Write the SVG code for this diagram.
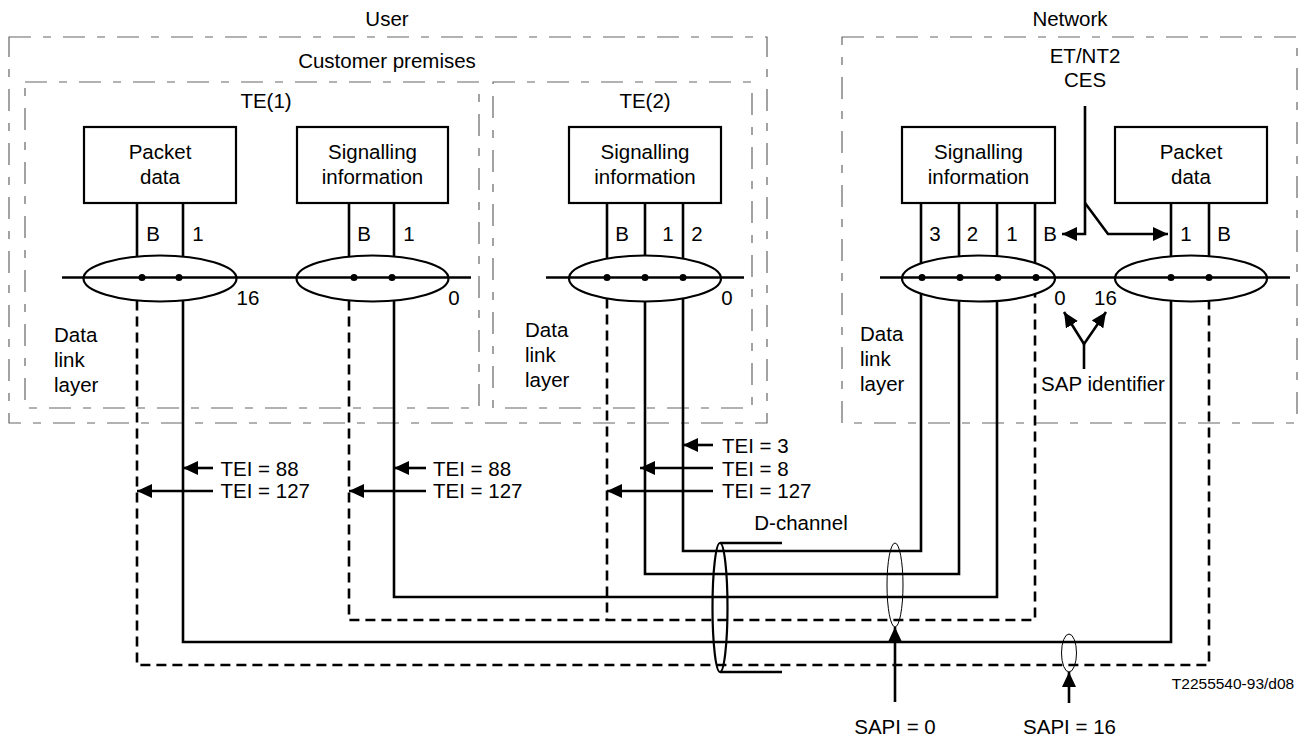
<svg xmlns="http://www.w3.org/2000/svg" width="1308" height="737" viewBox="0 0 1308 737">
<style>
text{font-family:"Liberation Sans",Arial,sans-serif;font-size:20.5px;fill:#000}
.m{text-anchor:middle}
.region{fill:none;stroke:#666;stroke-width:1.2;stroke-dasharray:22 12 8 12}
.box{fill:#fff;stroke:#000;stroke-width:2.2}
.sap{fill:none;stroke:#000;stroke-width:2.2}
.dot{fill:#000}
.w{fill:none;stroke:#000;stroke-width:2.6}
.d{fill:none;stroke:#000;stroke-width:2.6;stroke-dasharray:10 6}
.a{fill:none;stroke:#000;stroke-width:2.6;marker-end:url(#ah)}
.thin{fill:none;stroke:#000;stroke-width:1}
.small{font-size:15.5px}
</style>
<defs>
<marker id="ah" markerUnits="userSpaceOnUse" viewBox="0 0 15 14" refX="15" refY="7" markerWidth="15" markerHeight="14" orient="auto">
<path d="M0,0 L15,7 L0,14 z" fill="#000"/>
</marker>
</defs>
<rect width="1308" height="737" fill="#fff"/>

<g id="user-label"><text class="m" x="387" y="26">User</text></g>
<g id="network-label"><text class="m" x="1070" y="26">Network</text></g>

<g id="customer-premises">
<rect class="region" x="9" y="37" width="758" height="386"/>
<text class="m" x="387" y="68">Customer premises</text>
</g>

<g id="te1">
<rect class="region" x="25" y="82" width="454" height="326"/>
<text class="m" x="266" y="108">TE(1)</text>
<text x="54" y="342">Data</text>
<text x="54" y="367">link</text>
<text x="54" y="392">layer</text>
</g>

<g id="te2">
<rect class="region" x="493" y="82" width="259" height="326"/>
<text class="m" x="645" y="108">TE(2)</text>
<text x="525" y="337">Data</text>
<text x="525" y="362">link</text>
<text x="525" y="387">layer</text>
</g>

<g id="network">
<rect class="region" x="842" y="37" width="455" height="386"/>
<text class="m" x="1085" y="63">ET/NT2</text>
<text class="m" x="1085" y="87">CES</text>
<text x="860" y="341">Data</text>
<text x="860" y="366">link</text>
<text x="860" y="391">layer</text>
</g>

<g id="te1-packet">
<rect class="box" x="84" y="127" width="152" height="76"/>
<text class="m" x="160" y="159">Packet</text>
<text class="m" x="160" y="184">data</text>
<line class="w" x1="137" y1="203" x2="137" y2="256.6"/>
<line class="w" x1="183" y1="203" x2="183" y2="256.6"/>
<text class="m" x="153" y="241">B</text>
<text class="m" x="198" y="241">1</text>
</g>
<g id="te1-signalling">
<rect class="box" x="297" y="127" width="151" height="76"/>
<text class="m" x="372.5" y="159">Signalling</text>
<text class="m" x="372.5" y="184">information</text>
<line class="w" x1="349" y1="203" x2="349" y2="256.6"/>
<line class="w" x1="394" y1="203" x2="394" y2="256.4"/>
<text class="m" x="364" y="241">B</text>
<text class="m" x="409" y="241">1</text>
</g>
<g id="te2-signalling">
<rect class="box" x="569" y="127" width="152" height="76"/>
<text class="m" x="645" y="159">Signalling</text>
<text class="m" x="645" y="184">information</text>
<line class="w" x1="607" y1="203" x2="607" y2="258.5"/>
<line class="w" x1="645" y1="203" x2="645" y2="255.5"/>
<line class="w" x1="683" y1="203" x2="683" y2="258.5"/>
<text class="m" x="622" y="241">B</text>
<text class="m" x="668" y="241">1</text>
<text class="m" x="697" y="241">2</text>
</g>
<g id="net-signalling">
<rect class="box" x="902" y="127" width="153" height="76"/>
<text class="m" x="978.5" y="159">Signalling</text>
<text class="m" x="978.5" y="184">information</text>
<line class="w" x1="921" y1="203" x2="921" y2="263.3"/>
<line class="w" x1="959" y1="203" x2="959" y2="256.3"/>
<line class="w" x1="997" y1="203" x2="997" y2="256.2"/>
<line class="w" x1="1035" y1="203" x2="1035" y2="263"/>
<text class="m" x="935" y="241">3</text>
<text class="m" x="972.5" y="241">2</text>
<text class="m" x="1012" y="241">1</text>
<text class="m" x="1050" y="241">B</text>
</g>
<g id="net-packet">
<rect class="box" x="1115" y="127" width="152" height="76"/>
<text class="m" x="1191" y="159">Packet</text>
<text class="m" x="1191" y="184">data</text>
<line class="w" x1="1171" y1="203" x2="1171" y2="256.3"/>
<line class="w" x1="1209" y1="203" x2="1209" y2="256.1"/>
<text class="m" x="1186" y="241">1</text>
<text class="m" x="1224" y="241">B</text>
</g>

<g id="sap-te1">
<line class="w" x1="62" y1="277.5" x2="471" y2="277.5"/>
<ellipse class="sap" cx="160" cy="278.5" rx="76.5" ry="23"/>
<ellipse class="sap" cx="372.5" cy="278.5" rx="76" ry="23"/>
<circle class="dot" cx="142" cy="277.5" r="3.5"/>
<circle class="dot" cx="179" cy="277.5" r="3.5"/>
<circle class="dot" cx="354" cy="277.5" r="3.5"/>
<circle class="dot" cx="392" cy="277.5" r="3.5"/>
<text class="m" x="248" y="305">16</text>
<text class="m" x="454" y="305">0</text>
</g>
<g id="sap-te2">
<line class="w" x1="546" y1="277.5" x2="744" y2="277.5"/>
<ellipse class="sap" cx="645" cy="278.5" rx="76" ry="23"/>
<circle class="dot" cx="607" cy="277.5" r="3.5"/>
<circle class="dot" cx="645" cy="277.5" r="3.5"/>
<circle class="dot" cx="683" cy="277.5" r="3.5"/>
<text class="m" x="727" y="305">0</text>
</g>
<g id="sap-net">
<line class="w" x1="880" y1="277.5" x2="1290" y2="277.5"/>
<ellipse class="sap" cx="978.5" cy="278.5" rx="76.5" ry="23"/>
<ellipse class="sap" cx="1191" cy="278.5" rx="76" ry="23"/>
<circle class="dot" cx="922" cy="277.5" r="3.5"/>
<circle class="dot" cx="960" cy="277.5" r="3.5"/>
<circle class="dot" cx="998" cy="277.5" r="3.5"/>
<circle class="dot" cx="1036" cy="277.5" r="3.5"/>
<circle class="dot" cx="1171" cy="277.5" r="3.5"/>
<circle class="dot" cx="1209" cy="277.5" r="3.5"/>
<text class="m" x="1060" y="305">0</text>
<text class="m" x="1105.5" y="305">16</text>
<text class="m" x="1103" y="391">SAP identifier</text>
</g>

<g id="connectors">
<polyline class="d" points="137,300.4 137,665 1209,665 1209,300.9"/>
<polyline class="w" points="183,300.4 183,642 1171,642 1171,300.7"/>
<polyline class="d" points="349,300.4 349,620 1035,620 1035,294"/>
<polyline class="w" points="394,300.6 394,597 997,597 997,300.8"/>
<polyline class="d" points="607,298.5 607,620"/>
<polyline class="w" points="645,301.5 645,574 959,574 959,300.7"/>
<polyline class="w" points="683,298.5 683,551 921,551 921,293.7"/>

<line class="a" x1="213" y1="468" x2="183" y2="468"/>
<line class="a" x1="213" y1="491" x2="137" y2="491"/>
<line class="a" x1="426" y1="468" x2="394" y2="468"/>
<line class="a" x1="426" y1="491" x2="349" y2="491"/>
<line class="a" x1="713" y1="445" x2="683" y2="445"/>
<line class="a" x1="713" y1="468" x2="640" y2="468"/>
<line class="a" x1="713" y1="491" x2="607" y2="491"/>

<polyline class="a" points="1085,106 1085,234 1062,234"/>
<polyline class="a" points="1085,203 1108,234 1168,234"/>
<line class="w" x1="1084" y1="369" x2="1084" y2="343"/>
<line class="a" x1="1084" y1="344" x2="1064" y2="312"/>
<line class="a" x1="1084" y1="344" x2="1106" y2="312"/>

<ellipse class="sap" cx="720" cy="607.5" rx="7.5" ry="64.5"/>
<line class="w" x1="720" y1="543" x2="782" y2="543"/>
<line class="w" x1="720" y1="672" x2="782" y2="672"/>
<ellipse class="thin" cx="895" cy="585" rx="8" ry="42"/>
<ellipse class="thin" cx="1069" cy="653" rx="7.5" ry="19"/>
<line class="a" x1="895" y1="702" x2="895" y2="627"/>
<line class="a" x1="1069" y1="703" x2="1069" y2="672"/>
</g>

<g id="labels">
<text x="220.5" y="476">TEI = 88</text>
<text x="220.5" y="498">TEI = 127</text>
<text x="433" y="476">TEI = 88</text>
<text x="433" y="498">TEI = 127</text>
<text x="722" y="453">TEI = 3</text>
<text x="722" y="476">TEI = 8</text>
<text x="722" y="498">TEI = 127</text>
<text class="m" x="801" y="530">D-channel</text>
<text class="m" x="895" y="734">SAPI = 0</text>
<text class="m" x="1069.5" y="734">SAPI = 16</text>
<text class="m small" x="1233" y="689">T2255540-93/d08</text>
</g>
</svg>
